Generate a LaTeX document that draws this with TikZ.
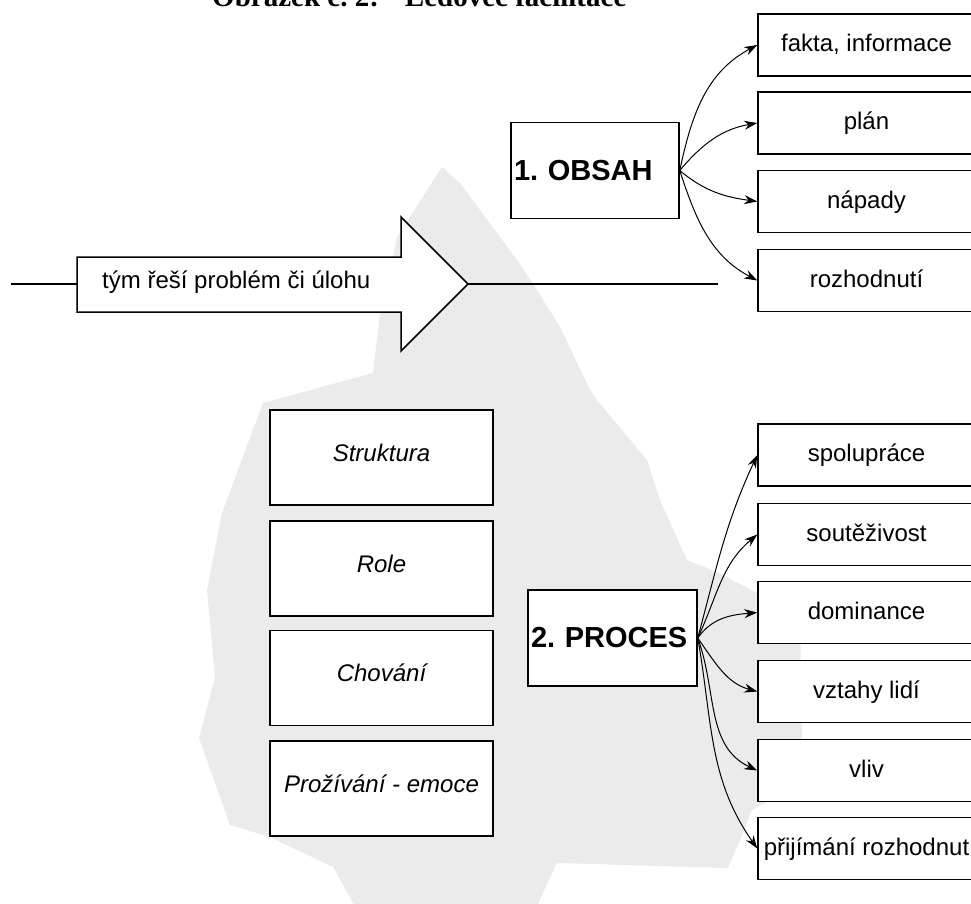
\documentclass[tikz,border=0pt]{standalone}
\usepackage{fontspec}
\setmainfont{Liberation Sans}
\newfontfamily\titlefont{Liberation Serif}
\usetikzlibrary{arrows.meta}
\frenchspacing

\begin{document}
\begin{tikzpicture}[x=1pt,y=-1pt,
    ice/.style={fill=black!8},
    item/.style={draw,line width=1.5pt,fill=white,inner sep=0pt,
      minimum width=217pt,minimum height=62pt,
      text height=18pt,text depth=5pt,font=\fontsize{24}{28}\selectfont},
    layer/.style={draw,line width=1.5pt,fill=white,inner sep=0pt,
      minimum width=223pt,minimum height=95pt,
      text height=18pt,text depth=11pt,font=\fontsize{24}{28}\selectfont\itshape},
    head/.style={draw,line width=1.5pt,fill=white,inner xsep=3pt,
      minimum height=96pt,align=left,
      font=\fontsize{29}{34}\selectfont\bfseries},
    link/.style={line width=1pt,-{Stealth[length=13pt,width=9pt]}}]
   \useasboundingbox (0,0) rectangle (971,903);
   % ledovec
   \fill [ice] (442,167) -- (460,183) -- (517,260) -- (537,290) -- (560,327)
      -- (590,390) -- (597,400) -- (647,460) -- (660,500) -- (687,560)
      -- (717,572) -- (770,600) -- (800,612) -- (802,740) -- (770,800)
      -- (752,810) -- (740,840) -- (728,868) -- (557,863) -- (535,910)
      -- (357,910) -- (333,867) -- (270,837) -- (230,825) -- (199,738)
      -- (215,677) -- (207,590) -- (222,513) -- (263,403) -- (373,373)
      -- (380,313) -- (393,257) -- (397,237) -- cycle;
   \node [anchor=base west,inner sep=0pt,font=\titlefont\bfseries\fontsize{29}{34}\selectfont] (title) at (212,6) {Obrázek č. 2:\hspace{26pt}Ledovec facilitace};
   % sipka
   \filldraw [black,line width=1.5pt,fill=white] (77,257) -- (401,257) -- (401,217) -- (468,284) -- (401,351) -- (401,312) -- (77,312) -- cycle;
   \node [anchor=west,inner sep=0pt,font=\fontsize{24}{28}\selectfont] (task) at (102,282) {tým řeší problém či úlohu};
   \coordinate (start) at (11,284);
   \coordinate (tail) at (77,284);
   \coordinate (tip) at (468,284);
   \coordinate (stop) at (718,284);
   \draw [black,line width=1.5pt] (start) -- (tail);
   \draw [black,line width=1.5pt] (tip) -- (stop);
   % obsah
   \node [head,text width=162pt] (obsah) at (595,170.5) {1. OBSAH};
   \node [item] (fakta) at (866.5,45) {fakta, informace};
   \node [item] (plan) at (866.5,123) {plán};
   \node [item] (napady) at (866.5,201.5) {nápady};
   \node [item] (rozhodnuti) at (866.5,280.5) {rozhodnutí};
   \draw [link] (obsah.east) to[out=78,in=208] (fakta.west);
   \draw [link] (obsah.east) to[out=50,in=190] (plan.west);
   \draw [link] (obsah.east) to[out=-40,in=172] (napady.west);
   \draw [link] (obsah.east) to[out=-72,in=152] (rozhodnuti.west);
   % vrstvy pod hladinou
   \node [layer] (struktura) at (381.5,457.5) {Struktura};
   \node [layer] (role) at (381.5,568.5) {Role};
   \node [layer] (chovani) at (381.5,678) {Chování};
   \node [layer] (emoce) at (381.5,788.5) {Prožívání - emoce};
   % proces
   \node [head,text width=163pt] (proces) at (612.5,638) {2. PROCES};
   \node [item] (spoluprace) at (866.5,455) {spolupráce};
   \node [item] (soutezivost) at (866.5,534.5) {soutěživost};
   \node [item] (dominance) at (866.5,612.5) {dominance};
   \node [item] (vztahy) at (866.5,691.5) {vztahy lidí};
   \node [item] (vliv) at (866.5,770.5) {vliv};
   \node [item] (prijimani) at (866.5,848.5) {přijímání rozhodnut};
   \draw [link] (proces.east) to[out=75,in=245] (spoluprace.west);
   \draw [link] (proces.east) to[out=65,in=220] (soutezivost.west);
   \draw [link] (proces.east) to[out=55,in=185] (dominance.west);
   \draw [link] (proces.east) to[out=-55,in=165] (vztahy.west);
   \draw [link] (proces.east) to[out=-70,in=155] (vliv.west);
   \draw [link] (proces.east) to[out=-80,in=125] (prijimani.west);
\end{tikzpicture}
\end{document}
